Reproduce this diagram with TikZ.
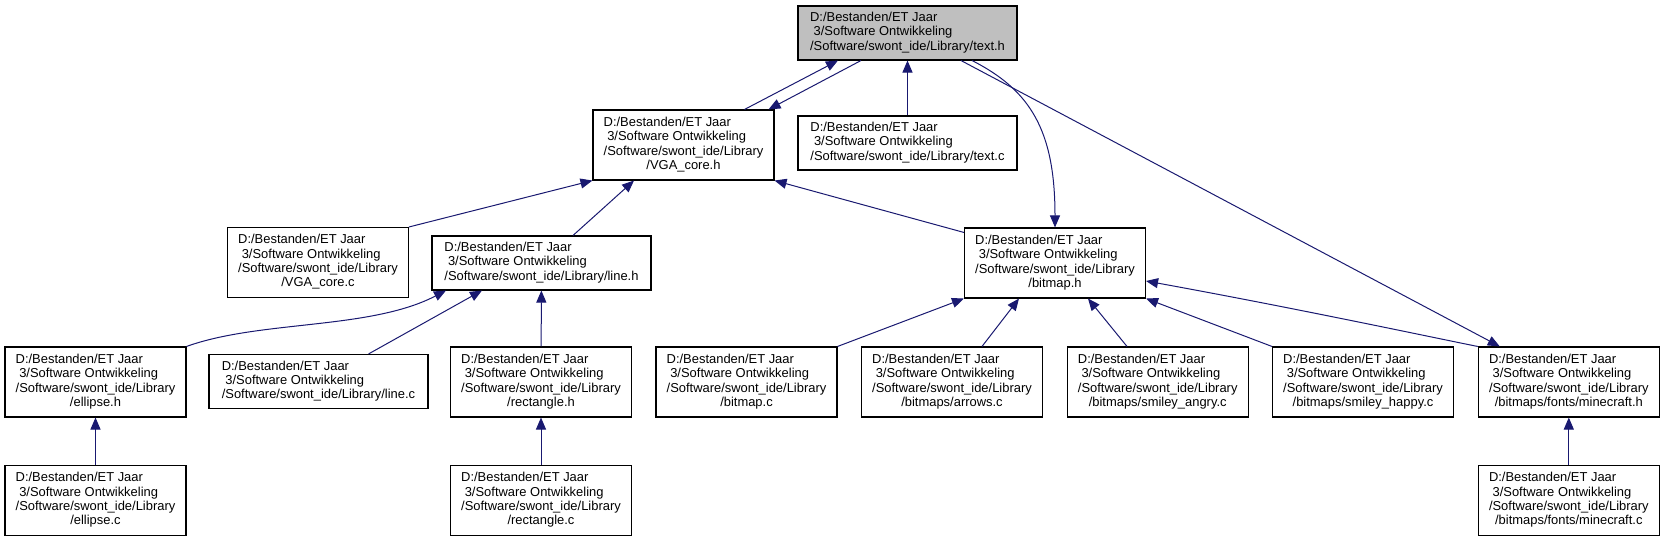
\documentclass[tikz,border=0pt]{standalone}
\usepackage{fontspec}
\setmainfont{Liberation Sans}
\usepackage{tikz}
\usetikzlibrary{arrows.meta,calc}
\definecolor{dxnavy}{HTML}{191970}
\definecolor{dxgray}{HTML}{BFBFBF}
\newcommand{\hdrlabel}[1]{\begin{tabular}{@{}l@{}}D:/Bestanden/ET Jaar\\\ 3/Software Ontwikkeling\\/Software/swont\_ide/Library\\\multicolumn{1}{@{}c@{}}{#1}\end{tabular}}
\newcommand{\hdrlabelw}[1]{\begin{tabular}{@{}l@{}}D:/Bestanden/ET Jaar\\\ 3/Software Ontwikkeling\\/Software/swont\_ide/Library/#1\end{tabular}}

\begin{document}
\begin{tikzpicture}[x=0.75pt,y=-0.75pt,
  every node/.style={draw=black,line width=0.8pt,inner sep=0pt,font=\fontsize{9.7}{10.75}\selectfont},
  hdr/.style={minimum width=135.75pt,minimum height=52.5pt},
  hdrw/.style={minimum width=164.25pt,minimum height=40.5pt},
  incl/.style={draw=dxnavy,line width=0.75pt,-{Triangle[length=9pt,width=7.5pt]}}]
\useasboundingbox (0,0) rectangle (1664,541);
\node[hdrw,fill=dxgray] (texth) at (907.5,33) {\hdrlabelw{text.h}};
\node[hdr] (vgah) at (683.5,145) {\hdrlabel{/VGA\_core.h}};
\node[hdrw] (textc) at (907.5,143) {\hdrlabelw{text.c}};
\node[hdr] (vgac) at (318,262.5) {\hdrlabel{/VGA\_core.c}};
\node[hdrw] (lineh) at (541.5,263) {\hdrlabelw{line.h}};
\node[hdr] (bitmaph) at (1055,263) {\hdrlabel{/bitmap.h}};
\node[hdr] (ellipseh) at (95.5,382) {\hdrlabel{/ellipse.h}};
\node[hdrw] (linec) at (318.5,381.5) {\hdrlabelw{line.c}};
\node[hdr] (recth) at (541,382) {\hdrlabel{/rectangle.h}};
\node[hdr] (bitmapc) at (746.5,382) {\hdrlabel{/bitmap.c}};
\node[hdr] (arrowsc) at (952,382) {\hdrlabel{/bitmaps/arrows.c}};
\node[hdr] (angryc) at (1157.7,382) {\hdrlabel{/bitmaps/smiley\_angry.c}};
\node[hdr] (happyc) at (1363,382) {\hdrlabel{/bitmaps/smiley\_happy.c}};
\node[hdr] (minecrafth) at (1568.8,382) {\hdrlabel{/bitmaps/fonts/minecraft.h}};
\node[hdr] (ellipsec) at (95.5,500.5) {\hdrlabel{/ellipse.c}};
\node[hdr] (rectc) at (541,500.5) {\hdrlabel{/rectangle.c}};
\node[hdr] (minecraftc) at (1568.8,500.5) {\hdrlabel{/bitmaps/fonts/minecraft.c}};

\draw[incl] ($(vgah.north)+(61,0)$) -- ($(texth.south)+(-69.5,0)$);
\draw[incl] ($(texth.south)+(-46.5,0)$) -- ($(vgah.north)+(85,0)$);
\draw[incl] (textc) -- (texth);
\draw[incl] ($(texth.south)+(64.5,0)$) .. controls (1030,90) and (1055,130) .. (bitmaph.north);
\draw[incl] ($(texth.south)+(53.5,0)$) -- ($(minecrafth.north)+(-69,0)$);
\draw[incl] (vgac.north east) -- (vgah.south west);
\draw[incl] ($(lineh.north)+(31.5,0)$) -- ($(vgah.south)+(-49.5,0)$);
\draw[incl] ($(bitmaph.north west)+(0,5)$) -- (vgah.south east);
\draw[incl] (ellipseh.north east) .. controls (260,320) and (370,330) .. ($(lineh.south)+(-95.5,0)$);
\draw[incl] ($(linec.north)+(50,0)$) -- ($(lineh.south)+(-59.5,0)$);
\draw[incl] (recth) -- (lineh);
\draw[incl] (ellipsec) -- (ellipseh);
\draw[incl] (rectc) -- (recth);
\draw[incl] (bitmapc.north east) -- (bitmaph.south west);
\draw[incl] ($(arrowsc.north)+(30,0)$) -- ($(bitmaph.south)+(-36,0)$);
\draw[incl] ($(angryc.north)+(-30.7,0)$) -- ($(bitmaph.south)+(33,0)$);
\draw[incl] (happyc.north west) -- (bitmaph.south east);
\draw[incl] (minecrafth.north west) .. controls (1440,339) and (1300,309) .. ($(bitmaph.east)+(0,18)$);
\draw[incl] (minecraftc) -- (minecrafth);
\end{tikzpicture}
\end{document}
